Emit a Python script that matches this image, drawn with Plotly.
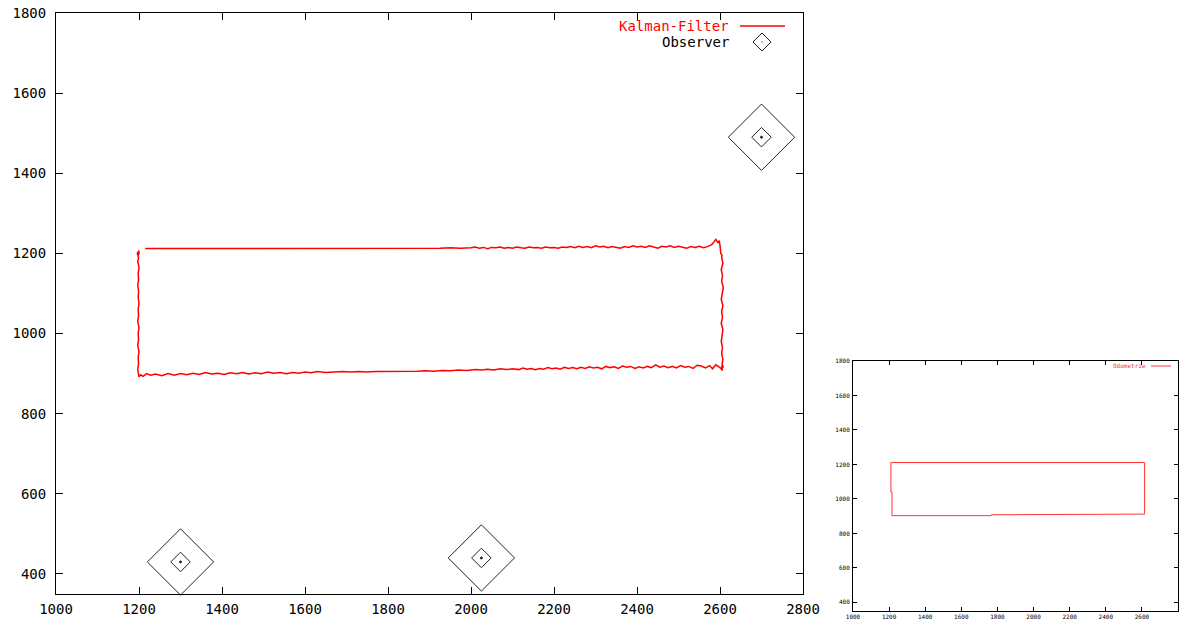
import plotly.graph_objects as go

W, H = 1184, 621

# ---------------- data ----------------
x_ticks = [1000, 1200, 1400, 1600, 1800, 2000, 2200, 2400, 2600, 2800]
y_ticks = [400, 600, 800, 1000, 1200, 1400, 1600, 1800]

# Kalman-filter trajectory (top edge, right edge, bottom edge, left edge)
kalman_x = [
    1215, 1800, 1825, 1850, 1875, 1900, 1925, 1950, 1975, 2000,
    2010, 2020, 2030, 2040, 2050, 2060, 2070, 2080, 2090, 2100,
    2110, 2120, 2130, 2140, 2150, 2160, 2170, 2180, 2190, 2200,
    2210, 2220, 2230, 2240, 2250, 2260, 2270, 2280, 2290, 2300,
    2310, 2320, 2330, 2340, 2350, 2360, 2370, 2380, 2390, 2400,
    2410, 2420, 2430, 2440, 2450, 2460, 2470, 2480, 2490, 2500,
    2510, 2520, 2530, 2540, 2550, 2560, 2570, 2580, 2585, 2590,
    2595, 2598, 2600, 2602, 2605,
    2604, 2607, 2603, 2606, 2604, 2608, 2605, 2603, 2607, 2604,
    2606, 2603, 2607, 2605, 2603, 2606, 2604, 2607, 2605, 2608,
    2604, 2606,
    2600, 2590, 2582, 2575, 2565, 2555, 2545, 2535, 2525, 2515,
    2505, 2495, 2485, 2475, 2465, 2455, 2445, 2435, 2425, 2415,
    2405, 2395, 2385, 2375, 2365, 2355, 2345, 2335, 2325, 2315,
    2305, 2295, 2285, 2275, 2265, 2255, 2245, 2235, 2225, 2215,
    2205, 2195, 2185, 2175, 2165, 2155, 2145, 2135, 2125, 2115,
    2100, 2085, 2070, 2055, 2040, 2025, 2010, 1990, 1970, 1950,
    1930, 1910, 1890, 1870, 1850, 1830, 1810, 1790, 1770, 1750,
    1730, 1710, 1690, 1670, 1650, 1630, 1615, 1600, 1585, 1570,
    1555, 1540, 1525, 1510, 1495, 1480, 1465, 1450, 1435, 1420,
    1405, 1390, 1375, 1360, 1345, 1330, 1315, 1300, 1285, 1270,
    1255, 1240, 1228, 1218, 1210, 1204, 1200,
    1199, 1197, 1199, 1198, 1200, 1197, 1199, 1198, 1200, 1197,
    1199, 1198, 1200, 1198, 1199, 1197, 1199, 1198, 1200, 1197,
    1199, 1196, 1200, 1198, 1201,
]
kalman_y = [
    1212, 1212, 1212, 1213, 1213, 1212, 1213, 1214, 1213, 1214,
    1216, 1213, 1215, 1212, 1215, 1214, 1216, 1213, 1215, 1213,
    1216, 1214, 1213, 1216, 1214, 1215, 1213, 1216, 1214, 1215,
    1213, 1216, 1215, 1217, 1214, 1218, 1215, 1217, 1214, 1219,
    1216, 1218, 1214, 1217, 1215, 1213, 1217, 1215, 1219, 1216,
    1218, 1215, 1219, 1216, 1213, 1218, 1216, 1219, 1215, 1218,
    1216, 1213, 1217, 1215, 1218, 1214, 1217, 1222, 1228, 1235,
    1226, 1232, 1220, 1200, 1195,
    1190, 1175, 1160, 1145, 1130, 1115, 1100, 1085, 1070, 1055,
    1040, 1025, 1010, 995, 980, 965, 950, 935, 925, 915,
    920, 908,
    915, 922, 912, 920, 914, 919, 921, 913, 918, 916,
    920, 914, 918, 915, 919, 916, 922, 915, 918, 914,
    917, 913, 918, 916, 919, 913, 917, 915, 918, 912,
    916, 914, 917, 913, 916, 912, 915, 913, 916, 911,
    914, 912, 915, 911, 913, 910, 913, 911, 914, 910,
    912, 910, 912, 909, 911, 909, 910, 908, 909, 907,
    908, 906, 907, 906, 906, 905, 906, 905, 905, 904,
    905, 904, 905, 904, 903, 905, 902, 904, 901, 903,
    900, 903, 901, 904, 900, 902, 899, 903, 900, 902,
    898, 901, 899, 903, 898, 901, 897, 900, 896, 900,
    895, 899, 896, 900, 893, 897, 892,
    898, 910, 925, 940, 955, 970, 985, 1000, 1015, 1030,
    1045, 1060, 1075, 1090, 1105, 1120, 1135, 1150, 1165, 1180,
    1190, 1200, 1207, 1195, 1203,
]

# Observer positions
observer_x = [1300, 2025, 2700]
observer_y = [430, 440, 1490]

# Odometry trajectory (inset)
odo_x = [1210, 1210, 1216, 1216, 1766, 1766, 2615, 2613, 2613, 2615, 2615, 1210]
odo_y = [1211, 1040, 1040, 903, 903, 908, 912, 1030, 1035, 1040, 1211, 1211]

# ---------------- layout helpers ----------------
def px(x):
    return x / W

def py(y):
    return 1 - y / H

FONT = "DejaVu Sans Mono"

fig = go.Figure()

# main plot
fig.add_trace(go.Scatter(x=kalman_x, y=kalman_y, mode="lines",
                         line=dict(color="#ff0000", width=1.5),
                         xaxis="x", yaxis="y", showlegend=False,
                         name="Kalman-Filter"))
for size, sym in [(51, "diamond-open"), (15, "diamond-open"), (2, "circle")]:
    fig.add_trace(go.Scatter(x=observer_x, y=observer_y, mode="markers",
                             marker=dict(symbol=sym, size=size, color="#222",
                                         line=dict(color="#222", width=1)),
                             cliponaxis=False, xaxis="x", yaxis="y",
                             showlegend=False, name="Observer"))

# inset plot
fig.add_trace(go.Scatter(x=odo_x, y=odo_y, mode="lines",
                         line=dict(color="#ff3333", width=1),
                         xaxis="x2", yaxis="y2", showlegend=False,
                         name="Odometrie"))

axis_common = dict(showgrid=False, zeroline=False, showline=True,
                   linecolor="black", linewidth=1, mirror="ticks",
                   ticks="inside", tickcolor="black", tickwidth=1,
                   automargin=False)

fig.update_layout(
    width=W, height=H, autosize=False,
    margin=dict(l=0, r=0, t=0, b=0, pad=0),
    paper_bgcolor="white", plot_bgcolor="white",
    xaxis=dict(domain=[px(56), px(803)], range=[1000, 2800],
               tickvals=x_ticks, ticklen=7, anchor="y",
               tickfont=dict(family=FONT, size=14, color="black"),
               ticklabelstandoff=2, **axis_common),
    yaxis=dict(domain=[py(594), py(13)], range=[350, 1800],
               tickvals=y_ticks, ticklen=7, anchor="x",
               tickfont=dict(family=FONT, size=14, color="black"),
               ticklabelstandoff=6, **axis_common),
    xaxis2=dict(domain=[px(853), px(1178)], range=[1000, 2800],
                tickvals=x_ticks, ticklen=4, anchor="y2",
                tickfont=dict(family=FONT, size=6, color="black"),
                ticklabelstandoff=0, **axis_common),
    yaxis2=dict(domain=[py(611), py(361)], range=[350, 1800],
                tickvals=y_ticks, ticklen=4, anchor="x2",
                tickfont=dict(family=FONT, size=6, color="black"),
                ticklabelstandoff=1, **axis_common),
)

# custom legends (gnuplot style: text then sample on the right)
fig.add_annotation(x=px(731), y=py(26), xref="paper", yref="paper",
                   text="Kalman-Filter", showarrow=False, xanchor="right",
                   yanchor="middle", font=dict(family=FONT, size=14, color="#ff0000"))
fig.add_shape(type="line", xref="paper", yref="paper",
              x0=px(740), x1=px(785), y0=py(26), y1=py(26),
              line=dict(color="#ff0000", width=1.5))
fig.add_annotation(x=px(731), y=py(42), xref="paper", yref="paper",
                   text="Observer", showarrow=False, xanchor="right",
                   yanchor="middle", font=dict(family=FONT, size=14, color="black"))
cx, cy, r = 762, 42, 9
fig.add_shape(type="path", xref="paper", yref="paper",
              path=f"M {px(cx-r)},{py(cy)} L {px(cx)},{py(cy-r)} L {px(cx+r)},{py(cy)} L {px(cx)},{py(cy+r)} Z",
              line=dict(color="#222", width=1))
fig.add_shape(type="rect", xref="paper", yref="paper",
              x0=px(cx-0.5), x1=px(cx+0.5), y0=py(cy+0.5), y1=py(cy-0.5),
              line=dict(width=0), fillcolor="#222")

fig.add_annotation(x=px(1148), y=py(366), xref="paper", yref="paper",
                   text="Odometrie", showarrow=False, xanchor="right",
                   yanchor="middle", font=dict(family=FONT, size=6, color="#ff3333"))
fig.add_shape(type="line", xref="paper", yref="paper",
              x0=px(1151), x1=px(1171), y0=py(366), y1=py(366),
              line=dict(color="#ff3333", width=1))

fig.write_html("out.html",
               config={"displayModeBar": False, "staticPlot": True},
               post_script="document.body.style.margin='0';document.body.style.overflow='hidden';")
